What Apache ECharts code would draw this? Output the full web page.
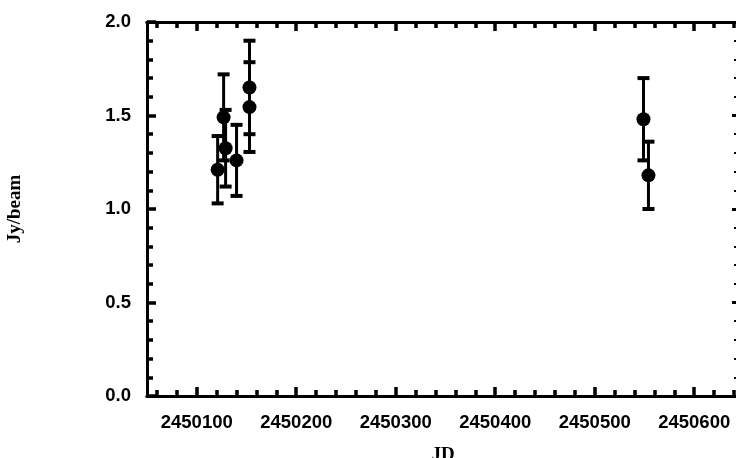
<!DOCTYPE html>
<html>
<head>
<meta charset="utf-8">
<script src="https://cdn.jsdelivr.net/npm/echarts@6/dist/echarts.min.js"></script>
<style>
  html, body { margin: 0; padding: 0; background: #fff; overflow: hidden; }
  #chart-ctn { width: 736px; height: 458px; }
</style>
</head>
<body>
<div id="chart-ctn"></div>
<script>
var jd   = [2450121, 2450127, 2450129, 2450140, 2450153, 2450153, 2450549, 2450554];
var flux = [1.21, 1.49, 1.325, 1.26, 1.65, 1.545, 1.48, 1.18];
var ferr = [0.18, 0.23, 0.205, 0.19, 0.25, 0.24, 0.22, 0.18];

var xMajor = [2450100, 2450200, 2450300, 2450400, 2450500, 2450600];
var xMin = 2450050, xMax = 2450645;

var xMinor = [];
for (var v = 2450060; v < xMax; v += 20) {
  if (xMajor.indexOf(v) < 0) xMinor.push(v);
}

var pts = jd.map(function (d, i) { return [d, flux[i]]; });
var bars = jd.map(function (d, i) { return [d, flux[i], ferr[i]]; });

var blk = '#000';
var labelFont = { color: blk, fontFamily: 'Liberation Sans', fontWeight: 'bold', fontSize: 18.5 };
var nameFont = { color: blk, fontFamily: 'Liberation Serif', fontWeight: 'bold', fontSize: 19 };

function xAx(grid, pos, ticks, len, lab) {
  return {
    type: 'value', gridIndex: grid, position: pos, min: xMin, max: xMax,
    axisLine: { show: true, onZero: false, lineStyle: { color: blk, width: 3 } },
    axisTick: { show: true, inside: true, length: len, customValues: ticks, lineStyle: { color: blk, width: 3.5 } },
    axisLabel: lab ? Object.assign({
      show: true, margin: 17, customValues: xMajor,
      formatter: function (v) { return String(v); }
    }, labelFont) : { show: false },
    splitLine: { show: false }
  };
}

function renderBar(params, api) {
  var x = api.value(0), y = api.value(1), e = api.value(2);
  var t = api.coord([x, y + e]);
  var b = api.coord([x, y - e]);
  var hw = 6;
  var st = { stroke: blk, lineWidth: 3 };
  var cap = { stroke: blk, lineWidth: 4 };
  return {
    type: 'group',
    children: [
      { type: 'line', shape: { x1: t[0], y1: t[1], x2: b[0], y2: b[1] }, style: st },
      { type: 'line', shape: { x1: t[0] - hw, y1: t[1], x2: t[0] + hw, y2: t[1] }, style: cap },
      { type: 'line', shape: { x1: b[0] - hw, y1: b[1], x2: b[0] + hw, y2: b[1] }, style: cap }
    ]
  };
}

var chart = echarts.init(document.getElementById('chart-ctn'));
var option = {
  animation: false,
  backgroundColor: '#fff',
  grid: [
    { left: 147, right: -3, top: 22, bottom: 62, outerBoundsMode: 'none' },
    { left: 147, right: -3, top: 22, bottom: 62, outerBoundsMode: 'none' }
  ],
  xAxis: [
    Object.assign(xAx(0, 'bottom', xMajor, 9, true), {
      name: 'JD', nameLocation: 'middle', nameGap: 50, nameTextStyle: nameFont
    }),
    xAx(0, 'top', xMajor, 9, false),
    xAx(1, 'bottom', xMinor, 6, false),
    xAx(1, 'top', xMinor, 6, false)
  ],
  yAxis: [
    {
      type: 'value', gridIndex: 0, position: 'left', min: 0, max: 2, interval: 0.5,
      name: 'Jy/beam', nameLocation: 'middle', nameGap: 122, nameRotate: 90,
      nameTextStyle: nameFont,
      axisLine: { show: true, onZero: false, lineStyle: { color: blk, width: 3 } },
      axisTick: { show: true, inside: true, length: 9, lineStyle: { color: blk, width: 3.5 } },
      minorTick: { show: true, splitNumber: 5, length: 6, lineStyle: { color: blk, width: 3.5 } },
      axisLabel: Object.assign({ margin: 16, formatter: function (v) { return v.toFixed(1); } }, labelFont),
      splitLine: { show: false }
    },
    {
      type: 'value', gridIndex: 0, position: 'right', min: 0, max: 2, interval: 0.5,
      axisLine: { show: true, onZero: false, lineStyle: { color: blk, width: 3 } },
      axisTick: { show: true, inside: true, length: 7, lineStyle: { color: blk, width: 3 } },
      minorTick: { show: true, splitNumber: 5, length: 5, lineStyle: { color: blk, width: 2 } },
      axisLabel: { show: false },
      splitLine: { show: false }
    },
    { type: 'value', gridIndex: 1, min: 0, max: 2, show: false },
    { type: 'value', gridIndex: 1, min: 0, max: 2, show: false, position: 'right' }
  ],
  series: [
    {
      type: 'custom', xAxisIndex: 0, yAxisIndex: 0,
      renderItem: renderBar, data: bars, z: 3
    },
    {
      type: 'scatter', xAxisIndex: 0, yAxisIndex: 0,
      symbol: 'circle', symbolSize: 14, data: pts, z: 4,
      itemStyle: { color: blk, opacity: 1 }
    }
  ]
};
chart.setOption(option, true);
</script>
</body>
</html>
